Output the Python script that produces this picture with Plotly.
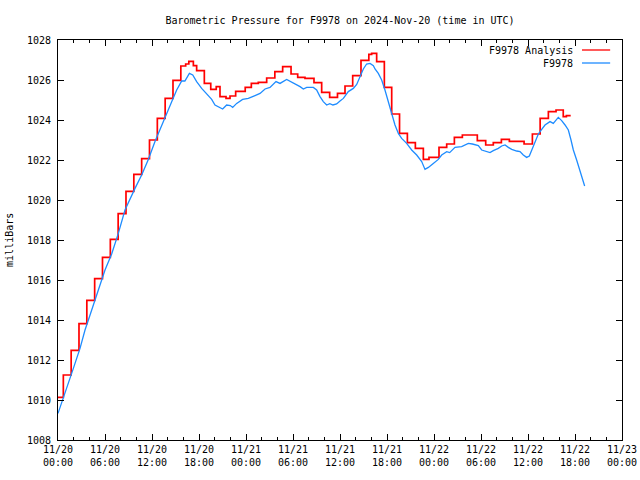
import pandas as pd
import plotly.graph_objects as go

START = "2024-11-20 00:00"
END = "2024-11-23 00:00"

# F9978 Analysis (hourly step values): hours since start, value in mb
analysis_hours = [0.00, 0.68, 1.68, 2.68, 3.68, 4.68, 5.68, 6.68, 7.68, 8.68,
                  9.68, 10.68, 11.68, 12.68, 13.68, 14.68, 15.68, 16.30, 16.70, 17.28,
                  17.70, 18.68, 19.50, 20.20, 20.68, 21.45, 21.96, 22.68, 23.90, 24.68,
                  25.57, 26.64, 27.68, 28.68, 29.75, 30.60, 31.53, 32.68, 33.66, 34.68,
                  35.68, 36.64, 37.62, 38.68, 39.68, 40.04, 40.68, 41.66, 42.60, 43.60,
                  44.60, 45.62, 46.64, 47.36, 48.64, 49.62, 50.60, 51.62, 53.53, 54.60,
                  55.57, 56.60, 57.62, 59.50, 60.56, 61.55, 62.60, 63.58, 64.50, 64.90,
                  65.45]
analysis_values = [1010.13, 1011.25, 1012.48, 1013.82, 1014.98, 1016.07, 1017.13, 1018.03, 1019.32, 1020.43,
                   1021.28, 1022.07, 1023.00, 1024.08, 1025.08, 1025.98, 1026.70, 1026.80, 1026.93, 1026.72,
                   1026.47, 1025.83, 1025.53, 1025.67, 1025.17, 1025.08, 1025.20, 1025.43, 1025.63, 1025.83,
                   1025.88, 1026.10, 1026.42, 1026.67, 1026.30, 1026.13, 1026.08, 1025.87, 1025.38, 1025.13,
                   1025.33, 1025.70, 1026.22, 1026.98, 1027.28, 1027.33, 1026.92, 1025.63, 1024.30, 1023.33,
                   1022.87, 1022.58, 1022.03, 1022.13, 1022.63, 1022.80, 1023.13, 1023.25, 1022.97, 1022.75,
                   1022.87, 1023.03, 1022.93, 1022.80, 1023.30, 1024.08, 1024.42, 1024.50, 1024.17, 1024.22,
                   1024.22]

# F9978 observations: hours since start, value in mb
obs_hours = [0.00, 0.68, 1.32, 1.96, 2.81, 3.45, 4.09, 4.72, 5.36, 6.00,
             6.85, 7.70, 8.55, 9.19, 9.83, 10.68, 11.53, 12.38, 13.23, 14.08,
             14.50, 15.15, 15.79, 16.20, 16.77, 17.20, 17.70, 18.34, 18.98, 19.62,
             20.04, 20.68, 21.02, 21.53, 22.00, 22.30, 22.81, 23.57, 24.30, 25.15,
             25.79, 26.43, 27.06, 27.83, 28.34, 29.19, 29.83, 30.26, 30.60, 30.90,
             31.32, 31.75, 32.60, 33.02, 33.45, 33.87, 34.30, 34.70, 35.10, 35.57,
             36.00, 36.43, 37.06, 37.70, 38.13, 38.55, 38.98, 39.40, 39.83, 40.26,
             40.47, 40.89, 41.32, 41.74, 42.17, 42.60, 43.02, 43.45, 43.87, 44.51,
             45.15, 45.79, 46.43, 46.85, 47.28, 47.91, 48.55, 48.98, 49.62, 50.00,
             50.68, 51.53, 52.38, 52.90, 53.66, 54.09, 54.73, 55.15, 55.57, 56.21,
             56.64, 57.07, 57.49, 57.92, 58.56, 58.98, 59.40, 59.83, 60.17, 60.47,
             60.90, 61.32, 61.75, 62.17, 62.81, 63.23, 63.87, 64.30, 64.73, 65.15,
             65.49, 65.79, 66.21, 66.64, 66.98, 67.23]
obs_values = [1009.33, 1010.08, 1010.83, 1011.58, 1012.58, 1013.50, 1014.25, 1015.00, 1015.75, 1016.50,
              1017.30, 1018.33, 1019.50, 1020.08, 1020.58, 1021.25, 1022.03, 1022.92, 1023.75, 1024.50,
              1024.90, 1025.50, 1025.95, 1025.95, 1026.33, 1026.25, 1025.92, 1025.58, 1025.33, 1025.03,
              1024.75, 1024.63, 1024.55, 1024.75, 1024.72, 1024.63, 1024.83, 1025.03, 1025.08, 1025.22,
              1025.33, 1025.55, 1025.63, 1025.92, 1025.83, 1026.03, 1025.90, 1025.83, 1025.72, 1025.67,
              1025.55, 1025.63, 1025.63, 1025.50, 1025.17, 1024.92, 1024.75, 1024.82, 1024.75, 1024.80,
              1024.95, 1025.08, 1025.42, 1025.58, 1025.78, 1026.17, 1026.55, 1026.80, 1026.83, 1026.72,
              1026.55, 1026.33, 1026.00, 1025.50, 1024.88, 1024.28, 1023.75, 1023.33, 1023.08, 1022.83,
              1022.50, 1022.25, 1021.92, 1021.53, 1021.63, 1021.83, 1022.03, 1022.25, 1022.42, 1022.37,
              1022.63, 1022.67, 1022.83, 1022.80, 1022.72, 1022.50, 1022.42, 1022.37, 1022.47, 1022.58,
              1022.70, 1022.75, 1022.63, 1022.53, 1022.45, 1022.42, 1022.25, 1022.13, 1022.20, 1022.50,
              1022.92, 1023.30, 1023.53, 1023.75, 1023.92, 1023.83, 1024.13, 1023.97, 1023.75, 1023.50,
              1023.00, 1022.50, 1022.00, 1021.42, 1021.00, 1020.70]

series_names = ["F9978 Analysis", "F9978"]
series_colors = ["#ff0000", "#1e8cff"]

base = pd.Timestamp(START)
analysis_t = base + pd.to_timedelta(analysis_hours, unit="h")
obs_t = base + pd.to_timedelta(obs_hours, unit="h")

FONT = "DejaVu Sans Mono"

fig = go.Figure()
fig.add_trace(go.Scatter(x=analysis_t, y=analysis_values, mode="lines",
                         line=dict(color=series_colors[0], width=1.7, shape="hv"),
                         name=series_names[0], showlegend=False, hoverinfo="skip"))
fig.add_trace(go.Scatter(x=obs_t, y=obs_values, mode="lines",
                         line=dict(color=series_colors[1], width=1.3),
                         name=series_names[1], showlegend=False, hoverinfo="skip"))

# gnuplot-style legend (text then sample line), placed in the top-right
leg_y = [0.975, 0.9425]
for name, color, yy in zip(series_names, series_colors, leg_y):
    fig.add_annotation(x=0.917, y=yy, xref="paper", yref="paper", text=name,
                       showarrow=False, xanchor="right", yanchor="middle",
                       font=dict(family=FONT, size=10, color="black"))
    fig.add_shape(type="line", xref="paper", yref="paper", x0=0.929, x1=0.979,
                  y0=yy, y1=yy, line=dict(color=color, width=1.3))

fig.add_annotation(x=-0.087, y=0.5, xref="paper", yref="paper", text="milliBars",
                   showarrow=False, textangle=-90, xanchor="center", yanchor="middle",
                   font=dict(family=FONT, size=10, color="black"))

fig.update_layout(
    width=640, height=480, autosize=False,
    margin=dict(l=58, r=18, t=40, b=40),
    paper_bgcolor="white", plot_bgcolor="white",
    font=dict(family=FONT, size=10, color="black"),
    title=dict(text="Barometric Pressure for F9978 on 2024-Nov-20 (time in UTC)",
               x=0.5, xref="paper", xanchor="center", y=1 - 20 / 480, yanchor="middle",
               font=dict(family=FONT, size=10, color="black")),
    showlegend=False,
)
fig.update_xaxes(
    type="date", range=[START, END], tick0=START, dtick=6 * 3600 * 1000,
    tickformat="%m/%d<br>%H:%M", ticks="inside", ticklen=6, tickcolor="black",
    showline=True, linecolor="black", linewidth=1, mirror="ticks",
    showgrid=False, zeroline=False, automargin=False,
    minor=dict(dtick=2 * 3600 * 1000, tick0=START, ticks="inside", ticklen=3,
               tickcolor="black", showgrid=False),
    tickfont=dict(family=FONT, size=10, color="black"),
)
fig.update_yaxes(
    range=[1008, 1028], dtick=2, tick0=1008, ticks="inside", ticklen=6, tickcolor="black",
    showline=True, linecolor="black", linewidth=1, mirror="ticks",
    showgrid=False, zeroline=False, automargin=False, ticklabelstandoff=4,
    tickfont=dict(family=FONT, size=10, color="black"),
)

post = (
    "document.body.style.margin='0';"
    "document.body.style.overflow='hidden';"
)
fig.write_html("out.html", config={"displayModeBar": False, "responsive": False},
               post_script=post)
